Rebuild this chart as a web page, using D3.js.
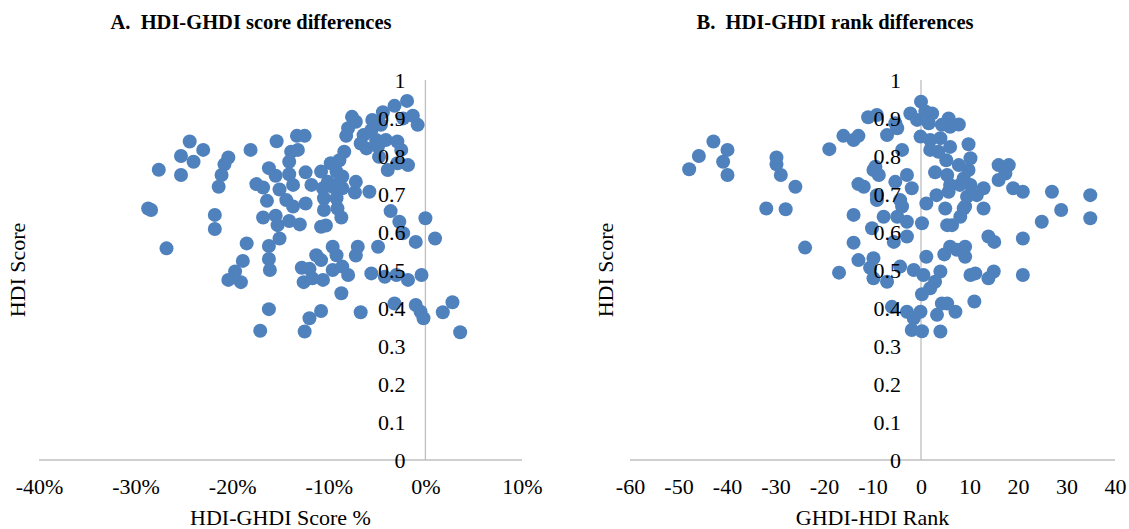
<!DOCTYPE html>
<html>
<head>
<meta charset="utf-8">
<script src="https://cdn.jsdelivr.net/npm/d3@7"></script>
<style>
body { margin: 0; background: #fff; }
text { font-family: "Liberation Serif", "Times New Roman", serif; fill: #000; }
</style>
</head>
<body>
<svg id="chart"></svg>
<script>
// A. HDI-GHDI score difference (%) vs HDI score
const scoreDiff = [
  -24.4,-23.0,-25.3,-24.0,-27.6,-25.3,-20.4,-20.8,-21.1,-21.4,
  -18.1,-15.4,-13.3,-12.5,-13.9,-13.2,-14.1,-16.2,-15.5,-14.1,
  -12.4,-17.5,-16.8,-15.1,-13.7,-16.4,-14.4,-13.7,-12.4,-11.8,
  -28.7,-28.4,-21.8,-21.8,-16.8,-15.5,-15.3,-14.1,-13.0,-15.1,
  -18.5,-16.2,-18.9,-16.2,-16.1,-26.8,-19.7,-20.4,-19.1,-12.8,
  -12.6,-16.2,-17.1,-12.0,-12.5,
  -1.9,-3.2,-4.4,-1.3,-0.8,-2.3,-5.5,-7.6,-7.2,-8.0,
  -8.2,-6.4,-5.6,-6.7,-5.1,-4.1,-2.9,-6.1,-2.5,-4.8,
  -3.9,-2.9,-1.8,-8.4,-9.8,-8.9,-10.8,-8.6,-9.2,-10.1,
  -10.6,-9.6,-8.6,-7.3,-5.8,-9.2,-10.5,-10.5,-9.1,-8.7,
  -3.6,-2.7,0.0,-2.3,-1.0,1.0,-10.8,-10.3,-9.6,-9.2,
  -11.3,-10.8,-12.0,-8.6,-8.0,-7.0,-7.2,-4.9,-9.6,-10.6,
  -11.7,-5.6,-4.2,-3.0,-1.8,-0.4,-8.7,-10.8,-6.7,-3.2,
  -1.0,-0.5,-0.2,1.8,2.8,3.6,-4.9,-4.6,-7.2,-8.9
];
const scoreHdi = [
  0.838,0.816,0.800,0.785,0.764,0.750,0.796,0.778,0.750,0.719,
  0.816,0.839,0.853,0.853,0.811,0.816,0.785,0.768,0.748,0.752,
  0.757,0.726,0.717,0.712,0.724,0.682,0.684,0.667,0.675,0.724,
  0.662,0.658,0.645,0.608,0.638,0.643,0.618,0.629,0.620,0.583,
  0.570,0.563,0.524,0.529,0.500,0.557,0.496,0.474,0.468,0.506,
  0.468,0.397,0.340,0.373,0.338,
  0.945,0.932,0.915,0.906,0.882,0.899,0.895,0.903,0.890,0.873,
  0.853,0.855,0.868,0.833,0.842,0.842,0.838,0.820,0.816,0.798,
  0.763,0.781,0.776,0.811,0.781,0.789,0.759,0.746,0.759,0.732,
  0.715,0.719,0.715,0.704,0.706,0.689,0.689,0.658,0.662,0.638,
  0.655,0.627,0.636,0.597,0.574,0.583,0.614,0.617,0.561,0.539,
  0.539,0.526,0.503,0.509,0.487,0.561,0.538,0.561,0.500,0.474,
  0.478,0.491,0.482,0.487,0.474,0.487,0.439,0.392,0.389,0.412,
  0.408,0.390,0.373,0.389,0.415,0.336,0.825,0.882,0.732,0.732
];

// B. GHDI-HDI rank difference vs HDI score
const rankDiff = [
  -42.8,-39.9,-45.8,-40.8,-47.8,-39.9,-29.8,-29.8,-28.9,-25.9,
  -31.9,-27.9,-23.9,-16.9,-18.9,-16.0,-13.9,-12.9,-10.9,-9.8,
  -12.9,-11.8,-13.9,-13.9,-12.9,-10.1,-9.1,-9.8,-10.5,-9.8,
  0,-9.1,-2.2,-0.8,2.3,1.6,-0.1,1.9,-4.9,-7.0,
  -3.9,-9.4,-8.7,-2.9,-5.3,-1.9,-9.1,-4.3,-3.9,-7.7,
  -4.9,-2.9,-5.6,-2.9,0.2,
  -4.3,-7.0,-6.0,-2.9,-1.5,-0.1,-1.9,0.2,4.0,0.2,
  1.9,2.9,3.3,4.3,7.1,5.4,11.0,
  -1.5,0.5,4.0,1.1,4.8,6.0,9.1,9.1,7.4,10.2,11.2,13.9,15.0,21.0,
  1.1,3.2,5.0,5.4,6.4,8.1,9.1,12.9,13.9,15.1,
  21.0,24.9,28.9,27.0,34.9,34.9,
  21.0,19.0,16.0,16.0,18.1,17.4,12.9,11.5,10.2,8.8,
  9.8,7.8,10.2,5.4,2.9,6.0,5.7,8.0,9.5,8.8,
  5.2,3.6,1.9,6.0,9.8,4.0,5.7,7.8,4.3,6.0,
  0.9,-5.3
];
const rankHdi = [
  0.838,0.816,0.800,0.785,0.765,0.750,0.796,0.778,0.750,0.719,
  0.662,0.660,0.559,0.493,0.818,0.853,0.842,0.853,0.902,0.763,
  0.726,0.719,0.645,0.572,0.526,0.610,0.684,0.531,0.506,0.478,
  0.943,0.908,0.912,0.895,0.912,0.886,0.851,0.842,0.873,0.855,
  0.816,0.772,0.750,0.750,0.732,0.715,0.697,0.684,0.667,0.640,
  0.640,0.627,0.574,0.588,0.623,
  0.509,0.469,0.403,0.390,0.373,0.390,0.342,0.339,0.338,0.436,
  0.452,0.469,0.382,0.412,0.390,0.412,0.417,
  0.500,0.487,0.496,0.535,0.541,0.561,0.561,0.535,0.553,0.487,0.491,0.478,0.496,0.487,
  0.675,0.697,0.662,0.618,0.618,0.640,0.667,0.662,0.588,0.574,
  0.583,0.627,0.658,0.706,0.697,0.636,
  0.706,0.715,0.737,0.776,0.776,0.754,0.715,0.697,0.724,0.741,
  0.763,0.776,0.794,0.750,0.757,0.724,0.706,0.724,0.693,0.662,
  0.789,0.811,0.816,0.824,0.831,0.847,0.899,0.883,0.882,0.877,
  0.917,0.886
];

const hdiTicks = [0, 0.1, 0.2, 0.3, 0.4, 0.5, 0.6, 0.7, 0.8, 0.9, 1];
const scoreTicks = [-40, -30, -20, -10, 0, 10];
const rankTicks = [-60, -50, -40, -30, -20, -10, 0, 10, 20, 30, 40];

class ScatterPlot {
    constructor( config, data ) {
        this.config = {
            parent: config.parent,
            left: config.left,
            right: config.right,
            top: config.top || 80,
            bottom: config.bottom || 460,
            xdomain: config.xdomain,
            xticks: config.xticks,
            xformat: config.xformat || (d => d),
            title: config.title || '',
            titleX: config.titleX,
            xlabel: config.xlabel || '',
            ylabel: config.ylabel || '',
            ylabelX: config.ylabelX,
        }
        this.data = data;
        this.init();
    }

    init() {
        let self = this;
        const c = self.config;
        self.chart = d3.select( c.parent ).append('g');
        self.xscale = d3.scaleLinear()
            .domain( c.xdomain )
            .range( [c.left, c.right] );
        self.yscale = d3.scaleLinear()
            .domain( [0, 1] )
            .range( [c.bottom, c.top] );

        self.chart.append('text')
            .attr('x', c.titleX)
            .attr('y', 29)
            .attr('text-anchor', 'middle')
            .style('font-size', '20.5px')
            .style('font-weight', 'bold')
            .style('white-space', 'pre')
            .text( c.title );
        self.chart.append('text')
            .attr('x', (c.left + c.right) / 2)
            .attr('y', 525)
            .attr('text-anchor', 'middle')
            .style('font-size', '22px')
            .text( c.xlabel );
        self.chart.append('text')
            .attr('transform', `translate(${c.ylabelX}, ${(c.top + c.bottom) / 2}) rotate(-90)`)
            .attr('text-anchor', 'middle')
            .attr('dy', '0.35em')
            .style('font-size', '22px')
            .text( c.ylabel );
    }

    render() {
        let self = this;
        const c = self.config;
        const x0 = self.xscale(0);
        const lineColor = '#bfbfbf';

        // axis lines below the markers
        self.chart.append('line')
            .attr('x1', c.left).attr('x2', c.right)
            .attr('y1', c.bottom).attr('y2', c.bottom)
            .attr('stroke', lineColor).attr('stroke-width', 1.3);
        self.chart.append('line')
            .attr('x1', x0).attr('x2', x0)
            .attr('y1', self.yscale(0)).attr('y2', self.yscale(1))
            .attr('stroke', lineColor).attr('stroke-width', 1.3);

        self.chart.append('g').selectAll('circle')
            .data(self.data)
            .join('circle')
            .attr('r', 7)
            .attr('cx', d => self.xscale(d.x))
            .attr('cy', d => self.yscale(d.y))
            .attr('fill', '#4f81bd');

        // tick labels drawn over the markers
        const xaxis = d3.axisBottom( self.xscale )
            .tickValues( c.xticks )
            .tickFormat( c.xformat )
            .tickSize(0)
            .tickPadding(18);
        const xg = self.chart.append('g')
            .attr('transform', `translate(0, ${c.bottom})`)
            .call( xaxis );
        const yaxis = d3.axisLeft( self.yscale )
            .tickValues( hdiTicks )
            .tickFormat( d3.format('~g') )
            .tickSize(0)
            .tickPadding(20);
        const yg = self.chart.append('g')
            .attr('transform', `translate(${x0}, 0)`)
            .call( yaxis );
        [xg, yg].forEach(g => {
            g.select('.domain').remove();
            g.selectAll('text')
                .attr('fill', '#000')
                .style('font-family', '"Liberation Serif", "Times New Roman", serif')
                .style('font-size', '22px');
        });
    }
}

d3.select('#chart').attr('width', 1129).attr('height', 529);

const scoreData = scoreDiff.map((v, i) => ({ x: v, y: scoreHdi[i] }));
const rankData = rankDiff.map((v, i) => ({ x: v, y: rankHdi[i] }));

const plotA = new ScatterPlot({
    parent: '#chart', left: 39, right: 522,
    xdomain: [-40, 10], xticks: scoreTicks, xformat: d => d + '%',
    title: 'A.  HDI-GHDI score differences', titleX: 251,
    xlabel: 'HDI-GHDI Score %', ylabel: 'HDI Score', ylabelX: 17,
}, scoreData);
plotA.render();

const plotB = new ScatterPlot({
    parent: '#chart', left: 630, right: 1115,
    xdomain: [-60, 40], xticks: rankTicks,
    title: 'B.  HDI-GHDI rank differences', titleX: 835,
    xlabel: 'GHDI-HDI Rank', ylabel: 'HDI Score', ylabelX: 605,
}, rankData);
plotB.render();
</script>
</body>
</html>
